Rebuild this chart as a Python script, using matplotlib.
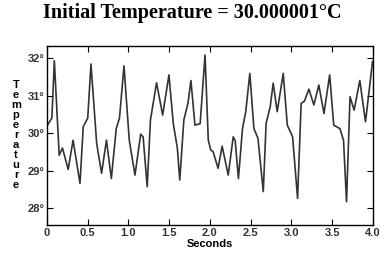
import matplotlib
matplotlib.use("Agg")
import matplotlib.pyplot as plt
from matplotlib.ticker import FuncFormatter

# values (seconds, degrees C)
t = [0.0, 0.06, 0.09, 0.15, 0.19, 0.26, 0.32, 0.405, 0.445, 0.50, 0.54,
     0.61, 0.67, 0.73, 0.79, 0.85, 0.89, 0.945, 1.01, 1.08, 1.15, 1.18,
     1.23, 1.27, 1.345, 1.42, 1.497, 1.55, 1.60, 1.63, 1.68, 1.73, 1.767,
     1.816, 1.88, 1.94, 1.98, 2.01, 2.04, 2.10, 2.15, 2.225, 2.286, 2.31,
     2.35, 2.40, 2.44, 2.49, 2.54, 2.59, 2.655, 2.69, 2.74, 2.777, 2.826,
     2.90, 2.95, 3.015, 3.076, 3.12, 3.16, 3.215, 3.276, 3.337, 3.40,
     3.47, 3.52, 3.595, 3.64, 3.677, 3.72, 3.77, 3.84, 3.91, 3.996]
temp = [30.19, 30.4, 31.93, 29.41, 29.6, 29.03, 29.81, 28.66, 30.17, 30.4, 31.84,
        29.72, 28.93, 29.81, 28.79, 30.12, 30.4, 31.79, 29.81, 28.88, 29.97, 29.9,
        28.57, 30.35, 31.34, 30.48, 31.55, 30.26, 29.6, 28.75, 30.35, 30.79, 31.4,
        30.21, 30.25, 32.08, 29.81, 29.55, 29.5, 29.06, 29.65, 28.88, 29.9, 29.8,
        28.79, 30.12, 30.57, 31.59, 30.12, 29.86, 28.44, 30.26, 30.7, 31.33, 30.57,
        31.59, 30.21, 29.9, 28.26, 30.79, 30.85, 31.17, 30.75, 31.28, 30.52,
        31.55, 30.21, 30.12, 29.81, 28.17, 30.97, 30.61, 31.4, 30.3, 31.9]
xticks = [0, 0.5, 1.0, 1.5, 2.0, 2.5, 3.0, 3.5, 4.0]
xlabels = ["0", "0.5", "1.0", "1.5", "2.0", "2.5", "3.0", "3.5", "4.0"]
yticks = [28, 29, 30, 31, 32]

fig = plt.figure(figsize=(3.9, 2.57), dpi=100)
ax = fig.add_axes([0.1205, 0.1245, 0.8355, 0.6965])
ax.plot(t, temp, color="#333333", lw=1.2)

ax.set_xlim(0, 4.0)
ax.set_ylim(27.55, 32.32)
ax.set_xticks(xticks)
ax.set_xticklabels(xlabels)
ax.set_yticks(yticks)
ax.yaxis.set_major_formatter(FuncFormatter(lambda v, p: "%d°" % v))
ax.tick_params(direction="in", length=4, width=0.8, top=True, right=True,
               labelsize=8, pad=2)
for lab in ax.get_xticklabels() + ax.get_yticklabels():
    lab.set_fontfamily("Liberation Sans")
    lab.set_fontweight("bold")
    lab.set_color("#333333")
for s in ax.spines.values():
    s.set_linewidth(1.0)

ax.set_xlabel("Seconds", fontsize=8, fontweight="bold", family="Liberation Sans",
              labelpad=1)
fig.text(16 / 390, (257 - 135) / 257, "\n".join("Temperature"), fontsize=8,
         fontweight="bold", family="Liberation Sans", ha="center", va="center",
         linespacing=1.0)
fig.text(0.494, 1 - 13 / 257, "Initial Temperature = 30.000001°C", fontsize=14.5,
         fontweight="bold", family="Liberation Serif", ha="center", va="center")

fig.savefig("out.png", dpi=100)
